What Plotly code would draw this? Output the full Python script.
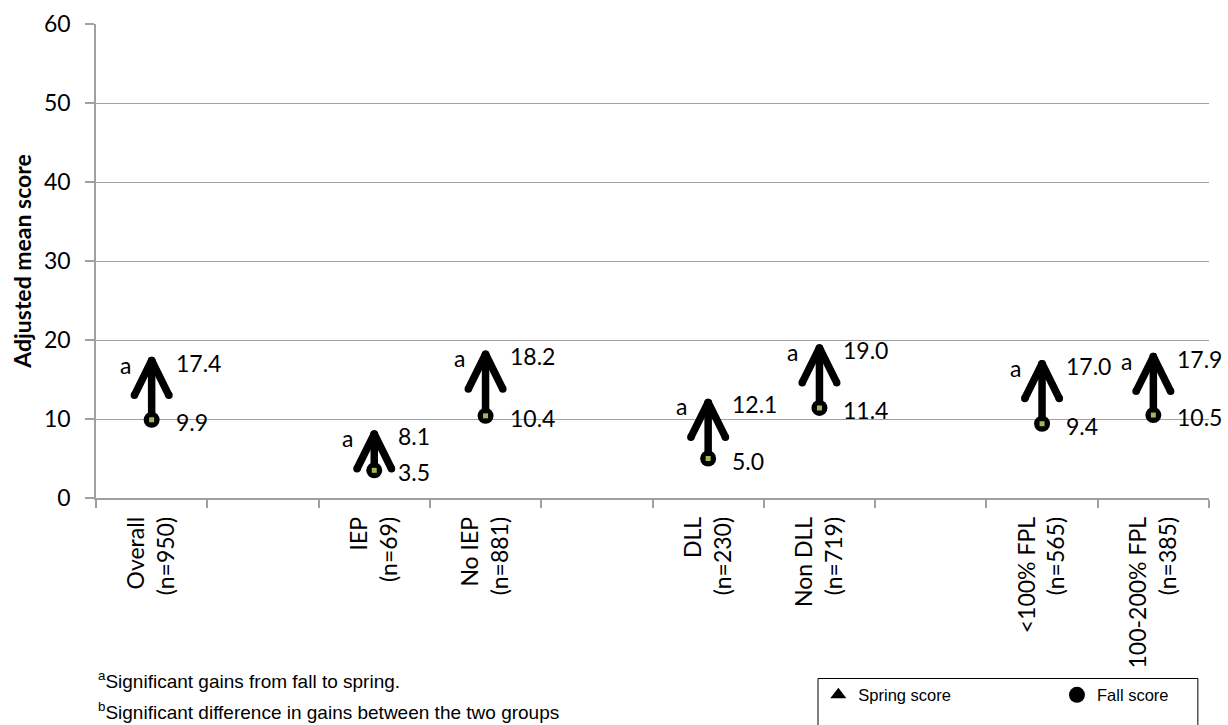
import plotly.graph_objects as go

# ---- data ----
slot_labels = ["Overall<br>(n=950)", "", "IEP<br>(n=69)", "No IEP<br>(n=881)", "",
               "DLL<br>(n=230)", "Non DLL<br>(n=719)", "",
               "&lt;100% FPL<br>(n=565)", "100-200% FPL<br>(n=385)"]
fall_scores = [9.9, None, 3.5, 10.4, None, 5.0, 11.4, None, 9.4, 10.5]
spring_scores = [17.4, None, 8.1, 18.2, None, 12.1, 19.0, None, 17.0, 17.9]
sig_marks = ["a", "", "a", "a", "", "a", "a", "", "a", "a"]
y_ticks = [0, 10, 20, 30, 40, 50, 60]
footnote_marks = ["a", "b"]
footnote_texts = ["Significant gains from fall to spring.",
                  "Significant difference in gains between the two groups"]
legend_names = ["Spring score", "Fall score"]

# ---- styles ----
HEAD_DX = 0.155     # arrow-head half width (category units)
HEAD_DY = 4.4       # arrow-head length (score units)
LINE_W = 7.5
GRID = "#a0a0a0"
TICK_FONT = dict(family="Lato, Calibri, sans-serif", size=23, color="#000000")
NOTE_FONT = dict(family="Liberation Sans, Arial, sans-serif", size=19, color="#000000")
LEG_FONT = dict(family="Liberation Sans, Arial, sans-serif", size=16.5, color="black")

positions = list(range(len(slot_labels)))
used = [i for i in positions if fall_scores[i] is not None]

# arrows (shaft + head) built from the data
ax, ay = [], []
for i in used:
    f, s = fall_scores[i], spring_scores[i]
    ax += [i, i, None, i - HEAD_DX, i, i + HEAD_DX, None]
    ay += [f, s, None, s - HEAD_DY, s, s - HEAD_DY, None]

fig = go.Figure()
fig.add_trace(go.Scatter(
    x=ax, y=ay, mode="lines+markers",
    line=dict(color="black", width=LINE_W),
    marker=dict(color="black", size=LINE_W),
    showlegend=False, hoverinfo="skip"))

# legend entry for spring score
fig.add_trace(go.Scatter(
    x=[None], y=[None], mode="markers", name=legend_names[0], legend="legend",
    marker=dict(symbol="triangle-up", color="black", size=14)))

# fall score dots
fig.add_trace(go.Scatter(
    x=used, y=[fall_scores[i] for i in used], mode="markers", name=legend_names[1],
    legend="legend2",
    marker=dict(symbol="circle", color="black", size=16, line=dict(width=0))))
fig.add_trace(go.Scatter(
    x=used, y=[fall_scores[i] for i in used], mode="markers", showlegend=False,
    marker=dict(symbol="square", color="#9bbb59", size=5, line=dict(width=0)),
    hoverinfo="skip"))

annotations = []
for i in used:
    annotations.append(dict(x=i, y=spring_scores[i], xref="x", yref="y",
                            text=f"{spring_scores[i]:.1f}", showarrow=False,
                            xanchor="left", yanchor="middle", xshift=22, yshift=-2,
                            font=TICK_FONT))
    annotations.append(dict(x=i, y=fall_scores[i], xref="x", yref="y",
                            text=f"{fall_scores[i]:.1f}", showarrow=False,
                            xanchor="left", yanchor="middle", xshift=22, yshift=-2,
                            font=TICK_FONT))
    annotations.append(dict(x=i, y=spring_scores[i], xref="x", yref="y",
                            text=sig_marks[i], showarrow=False,
                            xanchor="right", yanchor="middle", xshift=-19, yshift=-4,
                            font=TICK_FONT))

for k, (m, t) in enumerate(zip(footnote_marks, footnote_texts)):
    annotations.append(dict(x=0, y=-0.385 - 0.064 * k, xref="paper", yref="paper",
                            text=f"<sup>{m}</sup>{t}", showarrow=False,
                            xanchor="left", yanchor="middle", xshift=0,
                            font=NOTE_FONT, align="left"))

fig.update_layout(
    width=1228, height=725,
    margin=dict(l=96, r=19, t=24, b=227, autoexpand=False),
    paper_bgcolor="white", plot_bgcolor="white",
    showlegend=True,
    legend=dict(orientation="h", x=0.649, y=-0.379, xanchor="left", yanchor="top",
                borderwidth=0, bgcolor="rgba(0,0,0,0)", font=LEG_FONT,
                itemsizing="trace"),
    legend2=dict(orientation="h", x=0.8634, y=-0.379, xanchor="left", yanchor="top",
                 borderwidth=0, bgcolor="rgba(0,0,0,0)", font=LEG_FONT,
                 itemsizing="trace"),
    shapes=[dict(type="rect", xref="paper", yref="paper",
                 x0=0.6487, x1=0.990, y0=-0.3808, y1=-0.55,
                 line=dict(color="black", width=1), fillcolor="rgba(0,0,0,0)",
                 layer="below")],
    annotations=annotations,
)

fig.update_xaxes(
    range=[-0.5, len(slot_labels) - 0.5],
    tickmode="array", tickvals=used, ticktext=[slot_labels[i] for i in used],
    tickangle=-90, ticks="", showgrid=False, zeroline=False,
    showline=True, linecolor=GRID, linewidth=1.5,
    tickfont=TICK_FONT, ticklabelstandoff=8,
    minor=dict(tickmode="linear", tick0=-0.5, dtick=1, ticks="outside",
               ticklen=8, tickcolor=GRID, tickwidth=1.5, showgrid=False),
)
fig.update_yaxes(
    range=[0, 60], tickmode="array", tickvals=y_ticks,
    ticks="outside", ticklen=9, tickcolor=GRID, tickwidth=1.5,
    showgrid=True, gridcolor=GRID, gridwidth=1.3, zeroline=False,
    showline=True, linecolor=GRID, linewidth=1.5,
    tickfont=TICK_FONT, ticklabelstandoff=10,
    title=dict(text="<b>Adjusted mean score</b>", standoff=6,
               font=dict(family="Lato, Calibri, sans-serif", size=23, color="black")),
)

fig.write_html("out.html", config={"displayModeBar": False},
               post_script="document.body.style.margin='0';document.body.style.overflow='hidden';")
